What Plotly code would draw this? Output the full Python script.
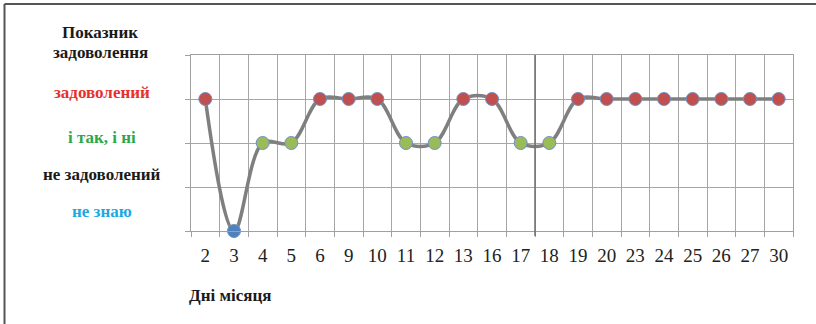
import plotly.graph_objects as go

# Days of the month and satisfaction level per day
days = ["2", "3", "4", "5", "6", "9", "10", "11", "12", "13", "16",
        "17", "18", "19", "20", "23", "24", "25", "26", "27", "30"]
levels = [3, 0, 2, 2, 3, 3, 3, 2, 2, 3, 3,
          2, 2, 3, 3, 3, 3, 3, 3, 3, 3]

# Level meaning (value -> label, colour)
level_names = {3: "задоволений", 2: "і так, і ні", 1: "не задоволений", 0: "не знаю"}
level_text_colors = {3: "#E8312B", 2: "#2CA84B", 1: "#1A1A1A", 0: "#1CA9E2"}
marker_colors = {3: "#C0504D", 2: "#9BBB59", 1: "#4F81BD", 0: "#4F81BD"}

W, H = 816, 324
L, R, T, B = 191, 23, 55, 93
PW, PH = W - L - R, H - T - B


def px(x):
    return (x - L) / PW


def py(y):
    return 1 - (y - T) / PH


SERIF = "Liberation Serif"

fig = go.Figure()
fig.add_trace(go.Scatter(
    x=days, y=levels,
    mode="lines+markers",
    line=dict(color="#7F7F7F", width=3.5, shape="spline", smoothing=1),
    marker=dict(size=13, color=[marker_colors[v] for v in levels],
                line=dict(color="#6F8FC8", width=1)),
    cliponaxis=False,
    showlegend=False,
))

# Darker divider between days 17 and 18
fig.add_shape(type="line", xref="x", yref="paper",
              x0=11.5, x1=11.5, y0=py(236), y1=1,
              line=dict(color="#6E6E6E", width=1.5))

# Frame lines on the left and top of the figure
fig.add_shape(type="line", xref="paper", yref="paper",
              x0=px(4.5), x1=px(4.5), y0=py(4), y1=py(330),
              line=dict(color="#555555", width=2))
fig.add_shape(type="line", xref="paper", yref="paper",
              x0=px(4.5), x1=px(820), y0=py(4), y1=py(4),
              line=dict(color="#555555", width=2))


def label(text, x, y, color="#1A1A1A", size=17):
    fig.add_annotation(text=f"<b>{text}</b>", x=px(x), y=py(y),
                       xref="paper", yref="paper", xanchor="center", yanchor="middle",
                       showarrow=False, font=dict(family=SERIF, size=size, color=color))


label("Показник", 100, 32)
label("задоволення", 100, 53)
label_y = {3: 92, 2: 137, 1: 174, 0: 211}
for v in (3, 2, 1, 0):
    label(level_names[v], 102, label_y[v], level_text_colors[v])
label("Дні місяця", 230, 295)

fig.update_layout(
    width=W, height=H,
    margin=dict(l=L, r=R, t=T, b=B),
    paper_bgcolor="white", plot_bgcolor="white",
    xaxis=dict(type="category", tickson="boundaries", ticks="outside", ticklen=5,
               tickcolor="#A0A0A0", showgrid=True, gridcolor="#A6A6A6", gridwidth=1,
               showline=True, linecolor="#A0A0A0", mirror=True,
               ticklabelstandoff=7,
               tickfont=dict(family=SERIF, size=19, color="#222222"),
               range=[-0.5, len(days) - 0.5], fixedrange=True),
    yaxis=dict(range=[0, 4], tickvals=[0, 1, 2, 3, 4], showticklabels=False,
               ticks="outside", ticklen=5, tickcolor="#A0A0A0",
               showgrid=True, gridcolor="#A6A6A6", gridwidth=1, zeroline=False,
               showline=True, linecolor="#A0A0A0", mirror=True, fixedrange=True),
)

fig.write_html("out.html")
